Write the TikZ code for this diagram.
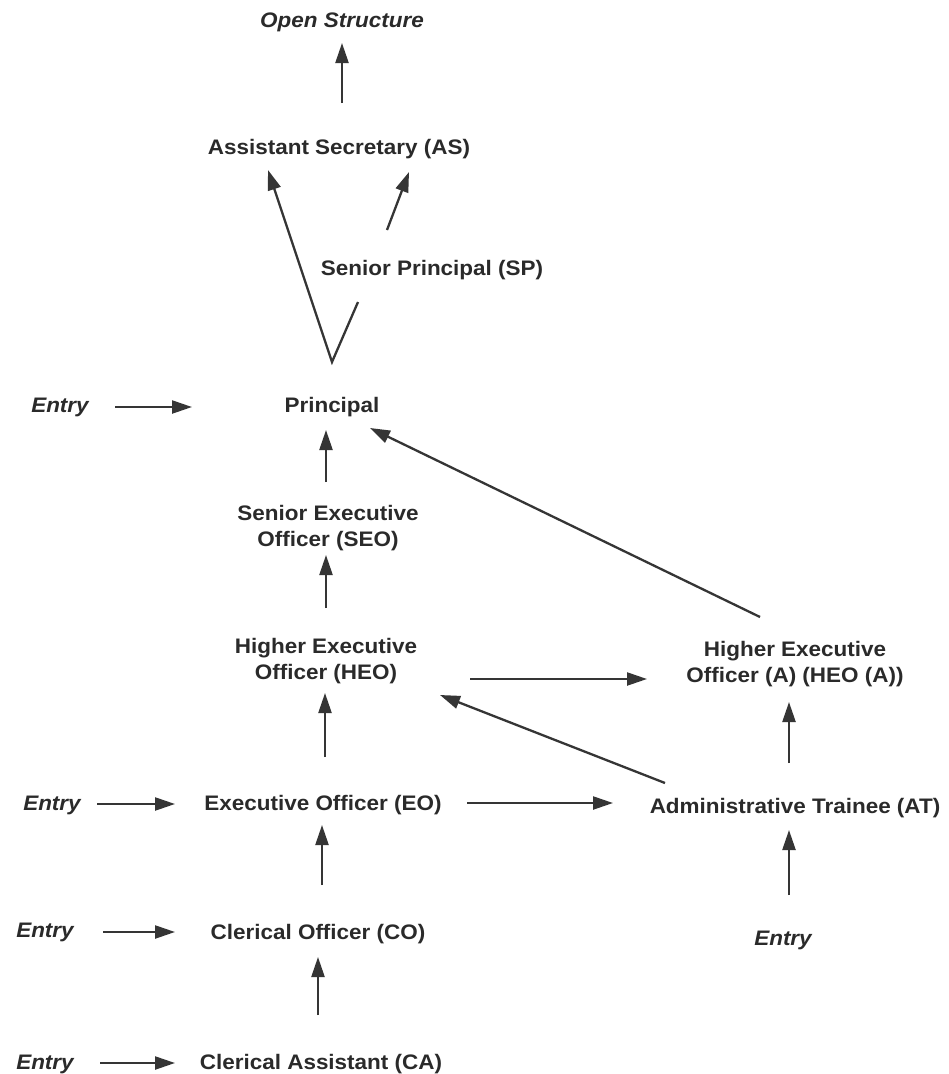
\documentclass[tikz,border=0pt]{standalone}
\usepackage{fontspec}
\setmainfont{Liberation Sans}[FakeStretch=1.07]
\usetikzlibrary{arrows.meta}
\definecolor{ink}{HTML}{2A2A2A}
\definecolor{linec}{HTML}{353535}
\tikzset{
  lbl/.style={inner sep=0pt, text=ink, font=\fontsize{21}{26}\selectfont\bfseries, text height=15pt, text depth=0pt},
  lbltwo/.style={inner sep=0pt, text=ink, font=\fontsize{21}{26}\selectfont\bfseries, align=center},
  entry/.style={inner sep=0pt, text=ink, font=\fontsize{21}{26}\selectfont\bfseries\itshape, text height=15pt, text depth=0pt},
  arr/.style={draw=linec, line width=2.3pt, -{Triangle[length=20pt,width=13pt]}}
}
\begin{document}
\begin{tikzpicture}[x=1pt,y=-1pt]
\fill[white] (0,0) rectangle (949,1074);
\useasboundingbox (0,0) rectangle (949,1074);
% nodes
\node[entry] (os) at (342,20) {Open Structure};
\node[lbl] (as) at (339,147) {Assistant Secretary (AS)};
\node[lbl] (sp) at (432,268) {Senior Principal (SP)};
\node[lbl] (pr) at (332,405) {Principal};
\node[lbltwo] (seo) at (328,528) {Senior Executive\\Officer (SEO)};
\node[lbltwo] (heo) at (326,661.5) {Higher Executive\\Officer (HEO)};
\node[lbl] (eo) at (323,803) {Executive Officer (EO)};
\node[lbl] (co) at (318,932) {Clerical Officer (CO)};
\node[lbl] (ca) at (321,1062) {Clerical Assistant (CA)};
\node[lbltwo] (heoa) at (795,664.5) {Higher Executive\\Officer (A) (HEO (A))};
\node[lbl] (at) at (795,806) {Administrative Trainee (AT)};
\node[entry] (e1) at (60,405) {Entry};
\node[entry] (e2) at (52,803) {Entry};
\node[entry] (e3) at (45,930) {Entry};
\node[entry] (e4) at (45,1062) {Entry};
\node[entry] (e5) at (783,938) {Entry};
\coordinate (v) at ([shift={(0,-43)}]pr.center);
% connectors
\draw[arr] ([shift={(3,-44)}]as.center) -- ([shift={(0,23)}]os.center);
\draw[arr, line join=miter] ([shift={(-74,34)}]sp.center) -- (v) -- ([shift={(-71,23)}]as.center);
\draw[arr] ([shift={(-45,-38)}]sp.center) -- ([shift={(70,25)}]as.center);
\draw[arr] ([shift={(55,2)}]e1.center) -- ([shift={(-140,2)}]pr.center);
\draw[arr] ([shift={(-2,-46)}]seo.center) -- ([shift={(-6,25)}]pr.center);
\draw[arr] ([shift={(0,-53.5)}]heo.center) -- ([shift={(-2,27)}]seo.center);
\draw[arr] ([shift={(2,-46)}]eo.center) -- ([shift={(-1,31.5)}]heo.center);
\draw[arr] ([shift={(4,-47)}]co.center) -- ([shift={(-1,22)}]eo.center);
\draw[arr] ([shift={(-3,-47)}]ca.center) -- ([shift={(0,25)}]co.center);
\draw[arr] ([shift={(45,1)}]e2.center) -- ([shift={(-148,1)}]eo.center);
\draw[arr] ([shift={(58,2)}]e3.center) -- ([shift={(-143,0)}]co.center);
\draw[arr] ([shift={(55,1)}]e4.center) -- ([shift={(-146,1)}]ca.center);
\draw[arr] ([shift={(144,0)}]eo.center) -- ([shift={(-182,-3)}]at.center);
\draw[arr] ([shift={(144,17.5)}]heo.center) -- ([shift={(-148,14.5)}]heoa.center);
\draw[arr] ([shift={(-130,-23)}]at.center) -- ([shift={(114,33.5)}]heo.center);
\draw[arr] ([shift={(-6,-43)}]at.center) -- ([shift={(-6,37.5)}]heoa.center);
\draw[arr] ([shift={(6,-43)}]e5.center) -- ([shift={(-6,24)}]at.center);
\draw[arr] ([shift={(-35,-47.5)}]heoa.center) -- ([shift={(38,23)}]pr.center);
\end{tikzpicture}
\end{document}
